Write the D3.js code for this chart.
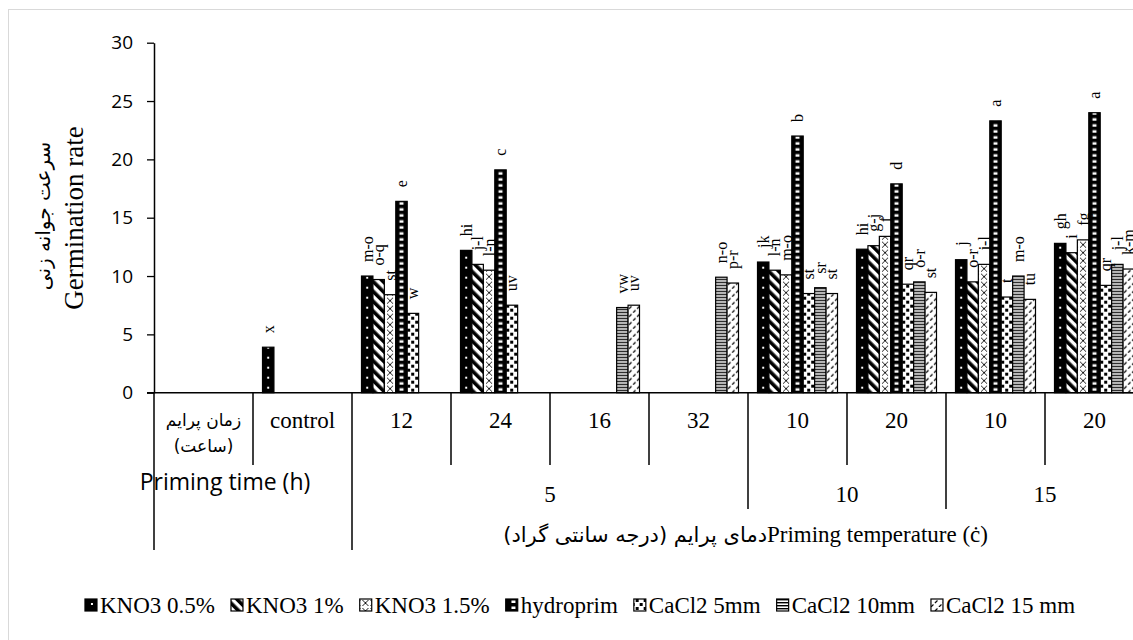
<!DOCTYPE html>
<html>
<head>
<meta charset="utf-8">
<script src="https://cdn.jsdelivr.net/npm/d3@7"></script>
<style>
body { margin: 0; background: #fff; }
svg { display: block; }
</style>
</head>
<body>
<script>
// categories (first one is the label column of the Excel multi-level axis)
var timeLabels = ['', 'control', '12', '24', '16', '32', '10', '20', '10', '20'];
var tempLabels = ['5', '10', '15'];
var tempSpans = [[2, 5], [6, 7], [8, 9]];
var yTicks = [0, 5, 10, 15, 20, 25, 30];

var seriesNames = ['KNO3 0.5%', 'KNO3 1%', 'KNO3 1.5%', 'hydroprim', 'CaCl2 5mm', 'CaCl2 10mm', 'CaCl2 15 mm'];

var kno3_05 = [null, 3.9, 10.0, 12.2, null, null, 11.2, 12.3, 11.4, 12.8];
var kno3_1 = [null, null, 9.7, 11.0, null, null, 10.5, 12.6, 9.5, 12.0];
var kno3_15 = [null, null, 8.4, 10.5, null, null, 10.1, 13.4, 11.0, 13.1];
var hydroprim = [null, null, 16.4, 19.1, null, null, 22.0, 17.9, 23.3, 24.0];
var cacl2_5 = [null, null, 6.8, 7.5, null, null, 8.5, 9.3, 8.2, 9.2];
var cacl2_10 = [null, null, null, null, 7.3, 9.9, 9.0, 9.5, 10.0, 11.0];
var cacl2_15 = [null, null, null, null, 7.5, 9.4, 8.5, 8.6, 8.0, 10.6];

var let_05 = [null, 'x', 'm-o', 'hi', null, null, 'jk', 'hi', 'j', 'gh'];
var let_1 = [null, null, 'o-q', 'j-l', null, null, 'l-n', 'g-j', 'o-r', 'i'];
var let_15 = [null, null, 'st', 'l-n', null, null, 'm-o', 'f', 'i-l', 'fg'];
var let_h = [null, null, 'e', 'c', null, null, 'b', 'd', 'a', 'a'];
var let_5 = [null, null, 'w', 'uv', null, null, 'st', 'qr', 't', 'qr'];
var let_10 = [null, null, null, null, 'vw', 'n-o', 'sr', 'o-r', 'm-o', 'j-l'];
var let_15mm = [null, null, null, null, 'uv', 'p-r', 'st', 'st', 'tu', 'k-m'];

var seriesValues = [kno3_05, kno3_1, kno3_15, hydroprim, cacl2_5, cacl2_10, cacl2_15];
var seriesLetters = [let_05, let_1, let_15, let_h, let_5, let_10, let_15mm];

var SERIF = "'Liberation Serif', 'Times New Roman', serif";
var SANS = "'Open Sans', 'Noto Sans', sans-serif";
var ARABIC = "'DejaVu Sans', sans-serif";

var svg = d3.select('body').append('svg').attr('width', 1133).attr('height', 640);
var defs = svg.append('defs');

// light frame of the chart area
svg.append('rect').attr('x', 8.5).attr('y', 9.5).attr('width', 1200).attr('height', 700)
    .attr('fill', 'none').attr('stroke', '#d9d9d9');

var x = d3.scaleBand().domain(d3.range(timeLabels.length)).range([154, 1144]);
var xs = d3.scaleBand().domain(d3.range(seriesNames.length)).range([9.5, x.bandwidth() - 9.5]);
var y = d3.scaleLinear().domain([0, 30]).range([392.7, 42.7]);

// pattern fills, one per bar so that each one starts at the bar's corner
function makePattern(id, s, x0, y0, w) {
    var p = defs.append('pattern').attr('id', id).attr('patternUnits', 'userSpaceOnUse');
    if (s == 0) {
        p.attr('x', x0).attr('y', y0).attr('width', w).attr('height', 10);
        p.append('rect').attr('width', w).attr('height', 10).attr('fill', '#000');
        p.append('rect').attr('x', w / 2 - 1).attr('y', 4).attr('width', 2).attr('height', 2).attr('fill', '#fff');
    } else if (s == 1) {
        p.attr('width', 7).attr('height', 7).attr('patternTransform', 'translate(' + x0 + ',' + y0 + ') rotate(-45)');
        p.append('rect').attr('width', 7).attr('height', 7).attr('fill', '#fff');
        p.append('rect').attr('width', 3.6).attr('height', 7).attr('fill', '#000');
    } else if (s == 2) {
        p.attr('x', x0 + w / 2 - 4).attr('y', y0).attr('width', 8).attr('height', 8);
        p.append('rect').attr('width', 8).attr('height', 8).attr('fill', '#fff');
        p.append('path').attr('d', 'M1,1L7,7M7,1L1,7').attr('stroke', '#000').attr('stroke-width', 0.9);
    } else if (s == 3) {
        p.attr('x', x0).attr('y', y0).attr('width', w).attr('height', 6);
        p.append('rect').attr('width', w).attr('height', 6).attr('fill', '#000');
        p.append('rect').attr('x', w / 2 - 2).attr('y', 1.5).attr('width', 4).attr('height', 2.5).attr('fill', '#fff');
    } else if (s == 4) {
        p.attr('x', x0).attr('y', y0).attr('width', 8).attr('height', 8);
        p.append('rect').attr('width', 8).attr('height', 8).attr('fill', '#fff');
        p.append('rect').attr('width', 3).attr('height', 3).attr('fill', '#000');
        p.append('rect').attr('x', 4).attr('y', 4).attr('width', 3).attr('height', 3).attr('fill', '#000');
    } else if (s == 5) {
        p.attr('x', x0).attr('y', y0).attr('width', w).attr('height', 3);
        p.append('rect').attr('width', w).attr('height', 3).attr('fill', '#fff');
        p.append('rect').attr('width', w).attr('height', 1.4).attr('fill', '#000');
    } else {
        p.attr('x', x0).attr('y', y0).attr('width', 8).attr('height', 8);
        p.append('rect').attr('width', 8).attr('height', 8).attr('fill', '#fff');
        p.append('path').attr('d', 'M1,4L3.5,1.5M5,8L7.5,5.5').attr('stroke', '#000').attr('stroke-width', 1.2);
    }
}

var bars = [];
seriesValues.forEach(function (vals, s) {
    vals.forEach(function (v, i) {
        if (v == null) return;
        bars.push({ s: s, i: i, v: v, letter: seriesLetters[s][i] });
    });
});

bars.forEach(function (d) {
    makePattern('p' + d.s + '_' + d.i, d.s, x(d.i) + xs(d.s), y(0), xs.bandwidth());
});

svg.append('g').selectAll('rect')
    .data(bars)
    .enter()
    .append('rect')
    .attr('x', function (d) { return x(d.i) + xs(d.s); })
    .attr('y', function (d) { return y(d.v); })
    .attr('width', xs.bandwidth())
    .attr('height', function (d) { return y(0) - y(d.v); })
    .attr('fill', function (d) { return 'url(#p' + d.s + '_' + d.i + ')'; })
    .attr('stroke', '#000')
    .attr('stroke-width', 1.2);

// letters of the mean comparison, rotated above every bar
svg.append('g').selectAll('text')
    .data(bars)
    .enter()
    .append('text')
    .attr('transform', function (d) {
        return 'translate(' + (x(d.i) + xs(d.s) + xs.bandwidth() / 2) + ',' + (y(d.v) - 14) + ') rotate(-90)';
    })
    .attr('dominant-baseline', 'central')
    .attr('font-family', SERIF)
    .attr('font-size', 16)
    .text(function (d) { return d.letter; });

// y axis
var yAxis = svg.append('g')
    .attr('transform', 'translate(154,0)')
    .call(d3.axisLeft(y).tickValues(yTicks).tickSize(7).tickSizeOuter(0).tickPadding(14));
yAxis.select('.domain').attr('stroke', '#000').attr('stroke-width', 1.5);
yAxis.selectAll('.tick line').attr('stroke', '#000').attr('stroke-width', 1.3);
yAxis.selectAll('.tick text').attr('font-family', SANS).attr('font-size', 19).attr('fill', '#000');

// x axis line
svg.append('line').attr('x1', 147).attr('x2', 1133).attr('y1', y(0)).attr('y2', y(0))
    .attr('stroke', '#000').attr('stroke-width', 1.5);

// category dividers below the axis
var dividers = d3.range(timeLabels.length).map(function (i) {
    var len = 465;
    if (i == 0 || i == tempSpans[0][0]) len = 550;
    else if (tempSpans.some(function (t) { return t[0] == i; })) len = 509;
    return { i: i, bottom: len };
});
svg.append('g').selectAll('line')
    .data(dividers)
    .enter()
    .append('line')
    .attr('x1', function (d) { return x(d.i); })
    .attr('x2', function (d) { return x(d.i); })
    .attr('y1', y(0))
    .attr('y2', function (d) { return d.bottom; })
    .attr('stroke', '#000')
    .attr('stroke-width', 1.5);

svg.append('g').selectAll('text')
    .data(timeLabels.slice(1))
    .enter()
    .append('text')
    .attr('x', function (d, k) { return x(k + 1) + x.bandwidth() / 2; })
    .attr('y', 428)
    .attr('text-anchor', 'middle')
    .attr('font-family', SERIF)
    .attr('font-size', 23)
    .text(function (d) { return d; });

svg.append('g').selectAll('text')
    .data(tempLabels)
    .enter()
    .append('text')
    .attr('x', function (d, k) { return (x(tempSpans[k][0]) + x(tempSpans[k][1]) + x.bandwidth()) / 2; })
    .attr('y', 502)
    .attr('text-anchor', 'middle')
    .attr('font-family', SERIF)
    .attr('font-size', 23)
    .text(function (d) { return d; });

// label column of the category axis
var cx0 = x(0) + x.bandwidth() / 2;
svg.append('text').attr('x', cx0).attr('y', 426).attr('text-anchor', 'middle')
    .attr('font-family', ARABIC).attr('font-size', 17).text('زمان پرایم');
svg.append('text').attr('x', cx0).attr('y', 452).attr('text-anchor', 'middle')
    .attr('font-family', ARABIC).attr('font-size', 17).text('(ساعت)');
svg.append('text').attr('x', 225).attr('y', 490).attr('text-anchor', 'middle')
    .attr('font-family', SANS).attr('font-size', 23).text('Priming time (h)');

// temperature title: Persian part ends where the English part starts
svg.append('text').attr('x', 767).attr('y', 542).attr('text-anchor', 'end')
    .attr('font-family', ARABIC).attr('font-size', 21)
    .text('دمای پرایم (درجه سانتی گراد)');
svg.append('text').attr('x', 767).attr('y', 542).attr('text-anchor', 'start')
    .attr('font-family', SERIF).attr('font-size', 23)
    .text('Priming temperature (ċ)');

// y axis titles
svg.append('text').attr('transform', 'translate(83,218) rotate(-90)').attr('text-anchor', 'middle')
    .attr('font-family', SERIF).attr('font-size', 27).text('Germination rate');
svg.append('text').attr('transform', 'translate(50,216) rotate(-90)').attr('text-anchor', 'middle')
    .attr('font-family', ARABIC).attr('font-size', 20).text('سرعت جوانه زنی');

// legend
var legend = svg.append('g');
var items = legend.selectAll('g')
    .data(seriesNames)
    .enter()
    .append('g');
items.append('text')
    .attr('x', 15)
    .attr('y', 613)
    .attr('font-family', SERIF)
    .attr('font-size', 23)
    .text(function (d) { return d; });
var lx = 0, pos = [];
items.each(function (d, s) {
    pos.push(lx);
    lx += 15 + this.querySelector('text').getComputedTextLength() + 16;
});
var lx0 = 580 - (lx - 16) / 2;
items.attr('transform', function (d, s) { return 'translate(' + (lx0 + pos[s]) + ',0)'; });
items.each(function (d, s) {
    makePattern('leg' + s, s, lx0 + pos[s], 599, 12);
});
items.append('rect')
    .attr('x', 0)
    .attr('y', 599)
    .attr('width', 12)
    .attr('height', 12)
    .attr('fill', function (d, s) { return 'url(#leg' + s + ')'; })
    .attr('stroke', '#000')
    .attr('stroke-width', 1.2);
</script>
</body>
</html>
